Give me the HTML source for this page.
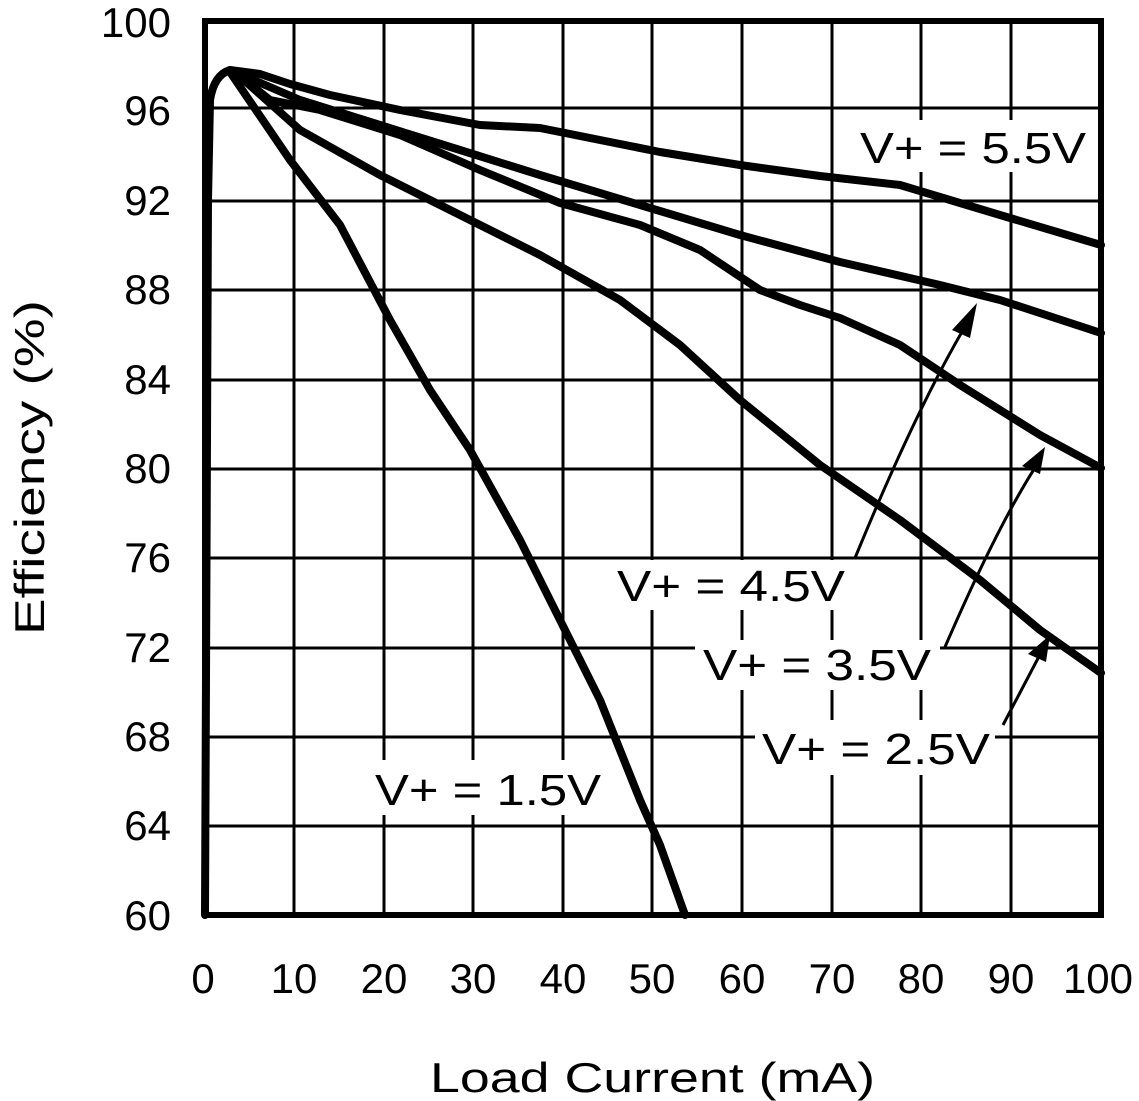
<!DOCTYPE html>
<html><head><style>body{margin:0;background:#fff}svg{display:block}</style></head><body>
<svg width="1139" height="1101" viewBox="0 0 1139 1101" xmlns="http://www.w3.org/2000/svg" font-family="Liberation Sans, sans-serif" fill="#000">
<g stroke="#000" stroke-width="3">
<line x1="294" y1="21" x2="294" y2="915"/><line x1="384" y1="21" x2="384" y2="915"/><line x1="473" y1="21" x2="473" y2="915"/><line x1="563" y1="21" x2="563" y2="915"/><line x1="652" y1="21" x2="652" y2="915"/><line x1="742" y1="21" x2="742" y2="915"/><line x1="832" y1="21" x2="832" y2="915"/><line x1="921" y1="21" x2="921" y2="915"/><line x1="1011" y1="21" x2="1011" y2="915"/>
<line x1="205" y1="108" x2="1101" y2="108"/><line x1="205" y1="201" x2="1101" y2="201"/><line x1="205" y1="290" x2="1101" y2="290"/><line x1="205" y1="380" x2="1101" y2="380"/><line x1="205" y1="469" x2="1101" y2="469"/><line x1="205" y1="558" x2="1101" y2="558"/><line x1="205" y1="648" x2="1101" y2="648"/><line x1="205" y1="737" x2="1101" y2="737"/><line x1="205" y1="826" x2="1101" y2="826"/>
</g>
<rect x="205" y="21" width="896" height="894" fill="none" stroke="#000" stroke-width="6"/>
<g fill="none" stroke="#000" stroke-width="8" stroke-linejoin="round" stroke-linecap="round">
<path d="M205,915 L208,200 L210,100 Q214,75 230,70 L260,74 L290,84 L330,95 L400,110 L480,125 L540,128 L600,140 L660,152 L740,165 L820,176 L900,185 L940,197 L1000,215 L1101,245"/>
<path d="M235,72 L300,100 L380,125 L460,150 L540,175 L640,205 L740,235 L840,262 L940,285 L1000,300 L1101,333"/>
<path d="M235,72 L270,100 L320,110 L400,135 L480,170 L560,203 L640,225 L700,250 L760,290 L800,305 L840,318 L900,345 L960,385 L1040,435 L1101,468"/>
<path d="M235,72 L300,130 L380,175 L460,215 L540,255 L620,300 L680,345 L740,400 L820,465 L900,520 L980,580 L1040,630 L1101,673"/>
<path d="M230,72 L290,160 L340,225 L390,320 L430,390 L470,450 L520,540 L560,620 L600,700 L640,800 L660,845 L685,915"/>
</g>
<g fill="#fff">
<rect x="610" y="560" width="240" height="50"/><rect x="695" y="640" width="245" height="50"/><rect x="755" y="720" width="240" height="55"/><rect x="368" y="760" width="240" height="55"/><rect x="852" y="120" width="240" height="52"/>
</g>
<g stroke="#000" stroke-width="3" fill="none">
<path d="M855,558 Q920,400 972,315"/><path d="M945,647 Q1000,520 1040,460"/><path d="M1003,725 L1045,645"/>
</g>
<g fill="#000">
<polygon points="977,303 952,330 970,338"/><polygon points="1045,447 1022,466 1040,474"/><polygon points="1050,635 1028,654 1046,662"/>
</g>
<g font-size="44">
<text x="617" y="601" textLength="228" lengthAdjust="spacingAndGlyphs">V+ = 4.5V</text>
<text x="703" y="680" textLength="228" lengthAdjust="spacingAndGlyphs">V+ = 3.5V</text>
<text x="762" y="764" textLength="228" lengthAdjust="spacingAndGlyphs">V+ = 2.5V</text>
<text x="375" y="805" textLength="226" lengthAdjust="spacingAndGlyphs">V+ = 1.5V</text>
<text x="860" y="163" textLength="226" lengthAdjust="spacingAndGlyphs">V+ = 5.5V</text>
</g>
<g font-size="42" text-anchor="end">
<text x="171" y="37">100</text><text x="171" y="125">96</text><text x="171" y="215">92</text><text x="171" y="304">88</text><text x="171" y="394">84</text><text x="171" y="483">80</text><text x="171" y="572">76</text><text x="171" y="662">72</text><text x="171" y="751">68</text><text x="171" y="840">64</text><text x="171" y="930">60</text>
</g>
<g font-size="42" text-anchor="middle">
<text x="203" y="993">0</text><text x="294" y="993">10</text><text x="384" y="993">20</text><text x="473" y="993">30</text><text x="563" y="993">40</text><text x="652" y="993">50</text><text x="742" y="993">60</text><text x="832" y="993">70</text><text x="921" y="993">80</text><text x="1011" y="993">90</text><text x="1098" y="993">100</text>
</g>
<text x="430" y="1092" font-size="42" textLength="445" lengthAdjust="spacingAndGlyphs">Load Current (mA)</text>
<text transform="translate(44,635) rotate(-90)" font-size="42" textLength="335" lengthAdjust="spacingAndGlyphs">Efficiency (%)</text>
</svg>
</body></html>
